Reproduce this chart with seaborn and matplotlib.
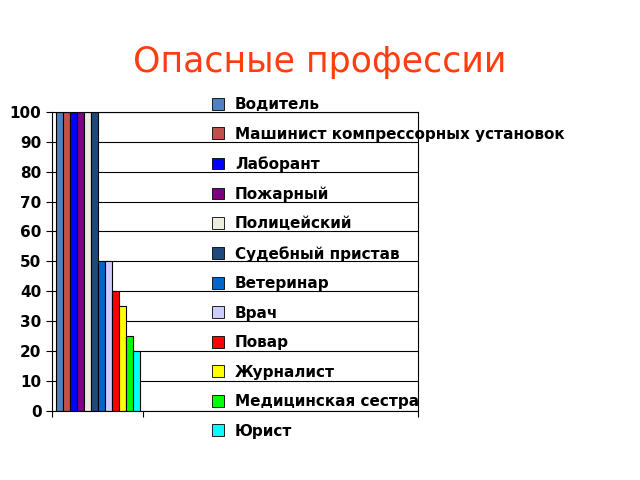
import matplotlib
matplotlib.use("Agg")
import matplotlib.pyplot as plt
import seaborn as sns
import pandas as pd

professions = ["Водитель", "Машинист компрессорных установок", "Лаборант", "Пожарный",
               "Полицейский", "Судебный пристав", "Ветеринар", "Врач", "Повар",
               "Журналист", "Медицинская сестра", "Юрист"]
values = [100, 100, 100, 100, 100, 100, 50, 50, 40, 35, 25, 20]
colors = ["#4F81BD", "#C0504D", "#0000FF", "#800080", "#EEECE1", "#1F497D",
          "#0066CC", "#CCCCFF", "#FF0000", "#FFFF00", "#00FF00", "#00FFFF"]
categories = ["c1", "c2", "c3", "c4"]

df = pd.DataFrame({"cat": ["c1"] * len(values), "prof": professions, "val": values})

sns.set_style("white")
fig = plt.figure(figsize=(6.4, 4.8), dpi=100)
ax = fig.add_axes([0.081, 0.144, 0.572, 0.623])
sns.barplot(data=df, x="cat", y="val", hue="prof", order=categories,
            hue_order=professions, palette=colors, width=0.92, ax=ax,
            edgecolor="black", linewidth=0.8, legend=False, saturation=1)
ax.set_ylim(0, 100)
ax.set_xlim(-0.5, 3.5)
ax.set_yticks(range(0, 101, 10))
ax.set_xticks([-0.5, 0.5, 3.5])
ax.set_xticklabels([])
ax.set_xlabel("")
ax.set_ylabel("")
ax.yaxis.grid(True, color="black", linewidth=0.8)
ax.set_axisbelow(True)
for s in ax.spines.values():
    s.set_color("black")
    s.set_linewidth(0.8)
ax.tick_params(axis="both", direction="out", length=4, color="black", left=True, bottom=True,
               labelcolor="black")
for t in ax.get_yticklabels():
    t.set_fontweight("bold")
    t.set_fontsize(11)

fig.text(0.5, 0.87, "Опасные профессии", ha="center", va="center",
         fontsize=25, color="#FF3D0F")

handles = [plt.Rectangle((0, 0), 1, 1, facecolor=c, edgecolor="black", linewidth=0.6) for c in colors]
leg = fig.legend(handles, professions, loc="upper left", bbox_to_anchor=(0.317, 0.817),
                 frameon=True, fancybox=False, edgecolor="black", framealpha=0,
                 prop={"weight": "bold", "size": 11}, handlelength=0.8, handleheight=0.8,
                 labelspacing=0.95, borderpad=0.6, handletextpad=0.7, borderaxespad=0)
leg.get_frame().set_linewidth(0.8)
for t in leg.get_texts():
    t.set_color("black")
leg.set_zorder(10)
fig.canvas.draw()
# widen legend frame to the reference box
fr = leg.get_frame()
fr.set_width(fr.get_width() + 25)
fig.savefig("out.png", dpi=100, facecolor="white")
